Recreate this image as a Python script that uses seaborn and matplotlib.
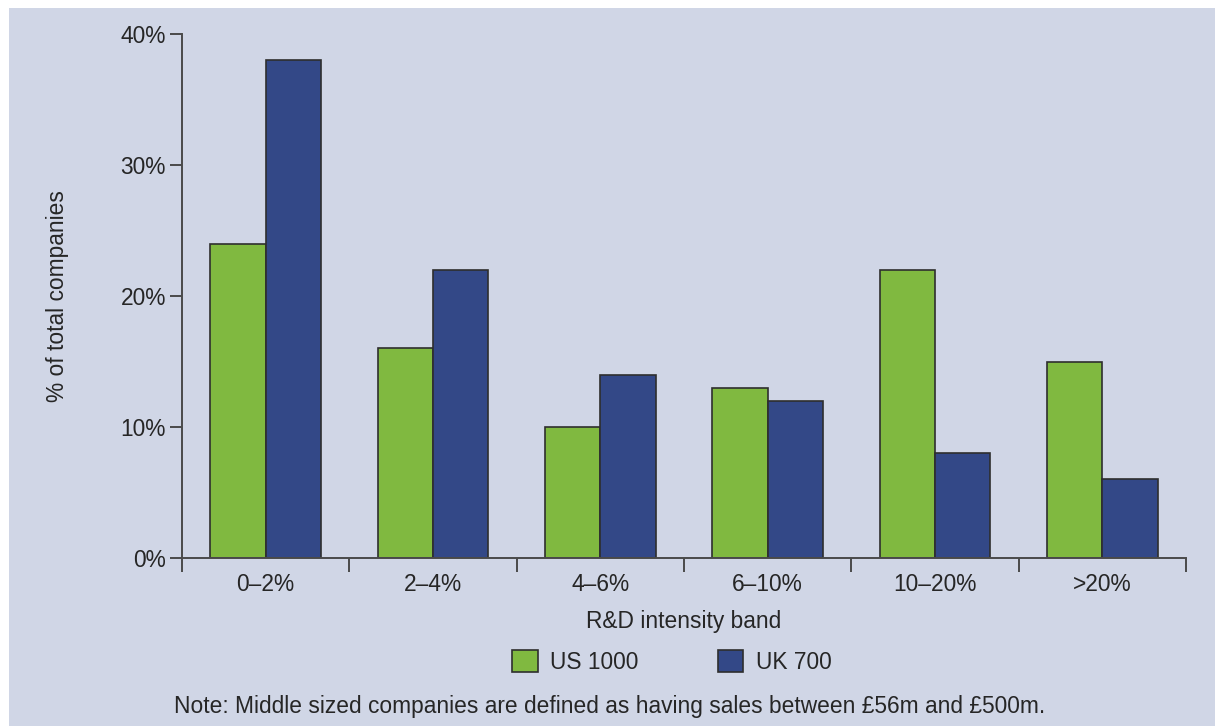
import matplotlib
matplotlib.use("Agg")
import matplotlib.pyplot as plt
from matplotlib.patches import Rectangle
from matplotlib.ticker import FixedLocator, PercentFormatter
import seaborn as sns
import pandas as pd

bands = ["0\u20132%", "2\u20134%", "4\u20136%", "6\u201310%", "10\u201320%", ">20%"]
us_1000 = [24, 16, 10, 13, 22, 15]
uk_700 = [38, 22, 14, 12, 8, 6]
series_names = ["US 1000", "UK 700"]
y_ticks = [0, 10, 20, 30, 40]

bg = "#d0d6e6"
green = "#80b940"
blue = "#334887"
edge = "#2e2e2e"
axis_col = "#4a4a4a"
text_col = "#262626"
fs = 16.4

df = pd.DataFrame({
    "band": bands * 2,
    "share": us_1000 + uk_700,
    "series": [series_names[0]] * len(bands) + [series_names[1]] * len(bands),
})

sns.set_theme(style="white")
plt.rcParams["font.family"] = ["Liberation Sans", "DejaVu Sans"]
plt.rcParams["text.color"] = text_col

fig = plt.figure(figsize=(12.15, 7.26), dpi=100, facecolor="white")
# tinted panel with a thin white margin on the top and left
fig.patches.append(Rectangle((9 / 1215, 0), 1, 1 - 8 / 726, transform=fig.transFigure,
                             facecolor=bg, edgecolor="none", zorder=-10))

ax = fig.add_axes([182 / 1215, 1 - 558 / 726, (1186 - 182) / 1215, (558 - 34) / 726])
ax.set_facecolor("none")

sns.barplot(data=df, x="band", y="share", hue="series", order=bands,
            hue_order=series_names, palette=[green, blue], width=0.66, gap=0,
            edgecolor=edge, linewidth=1.2, saturation=1, ax=ax, legend=True)

ax.set_xlim(-0.5, len(bands) - 0.5)
ax.set_ylim(0, 40)
ax.yaxis.set_major_locator(FixedLocator(y_ticks))
ax.yaxis.set_major_formatter(PercentFormatter(decimals=0))

for side in ["top", "right"]:
    ax.spines[side].set_visible(False)
for side in ["left", "bottom"]:
    ax.spines[side].set_color(axis_col)
    ax.spines[side].set_linewidth(1.4)

ax.tick_params(axis="y", which="major", direction="out", length=8.6, width=1.4,
               color=axis_col, labelsize=fs, labelcolor=text_col, pad=3, left=True)
ax.tick_params(axis="x", which="major", length=0, labelsize=fs,
               labelcolor=text_col, pad=11)
# category boundaries marked below the axis
ax.xaxis.set_minor_locator(FixedLocator([i - 0.5 for i in range(len(bands) + 1)]))
ax.tick_params(axis="x", which="minor", direction="out", length=10, width=1.4,
               color=axis_col, bottom=True)

ax.set_xlabel("R&D intensity band", fontsize=fs, color=text_col, labelpad=10)
ax.set_ylabel("% of total companies", fontsize=fs, color=text_col, labelpad=37)

handles, labels = ax.get_legend_handles_labels()
ax.get_legend().remove()
fig.legend(handles, labels, loc="center", bbox_to_anchor=(672 / 1215, 1 - 662 / 726),
           ncol=2, frameon=False, fontsize=fs, handlelength=1.1, handleheight=1.1,
           handletextpad=0.55, columnspacing=3.5, borderaxespad=0)

fig.text(610 / 1215, 1 - 706 / 726,
         "Note: Middle sized companies are defined as having sales between \u00a356m and \u00a3500m.",
         ha="center", va="center", fontsize=fs, color=text_col)

fig.savefig("out.png", dpi=100, facecolor=fig.get_facecolor())
